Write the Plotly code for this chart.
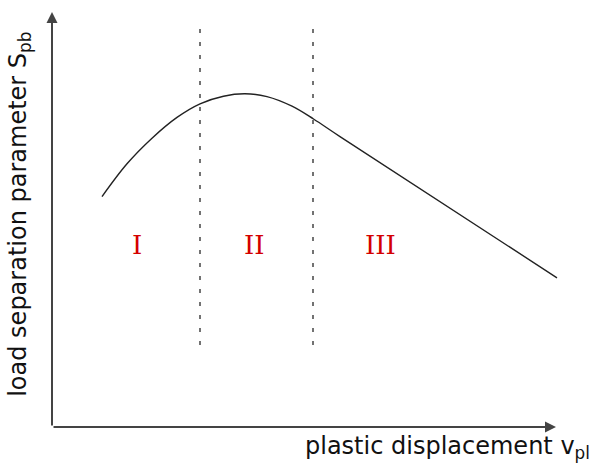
import plotly.graph_objects as go

# Schematic load-separation curve (arbitrary units)
v_pl = [1.00, 1.50, 2.00, 2.50, 2.96, 3.43, 3.86, 4.30, 4.80, 5.23, 5.76, 10.10]
s_pb = [5.76, 6.58, 7.22, 7.74, 8.08, 8.27, 8.33, 8.26, 8.02, 7.70, 7.26, 3.73]

# Stage boundaries and stage labels
boundaries = [2.96, 5.22]
boundary_span = [2.05, 10.03]
stage_names = ["I", "II", "III"]
stage_x = [1.70, 4.04, 6.56]
stage_y = 4.55

# Axis extents (arrow tips)
x_tip = 10.08
y_tip = 10.375

fig = go.Figure()

fig.add_trace(go.Scatter(
    x=v_pl, y=s_pb, mode="lines",
    line=dict(color="#222222", width=1.4, shape="spline", smoothing=1.0),
    hoverinfo="skip", showlegend=False,
))

for xb in boundaries:
    fig.add_trace(go.Scatter(
        x=[xb, xb], y=boundary_span, mode="lines",
        line=dict(color="#444444", width=1.5, dash="4px,9px"),
        hoverinfo="skip", showlegend=False,
    ))

annotations = []
# axes with arrowheads
annotations.append(dict(x=x_tip, y=0, ax=0, ay=0, xref="x", yref="y", axref="x", ayref="y",
                        showarrow=True, arrowhead=2, arrowsize=1.1, arrowwidth=2,
                        arrowcolor="#444444", text=""))
annotations.append(dict(x=0, y=y_tip, ax=0, ay=0, xref="x", yref="y", axref="x", ayref="y",
                        showarrow=True, arrowhead=2, arrowsize=1.1, arrowwidth=2,
                        arrowcolor="#444444", text=""))

for name, sx in zip(stage_names, stage_x):
    annotations.append(dict(x=sx, y=stage_y, xref="x", yref="y", text=name, showarrow=False,
                            font=dict(family="DejaVu Serif", size=26, color="#d40000")))

# axis titles placed in paper coordinates (outside the plotting area)
annotations.append(dict(x=0.7306, y=-0.047, xref="paper", yref="paper",
                        xanchor="center", yanchor="middle",
                        text="plastic displacement v<sub>pl</sub>", showarrow=False,
                        font=dict(family="DejaVu Sans", size=24, color="#111111")))
annotations.append(dict(x=-0.059, y=0.497, xref="paper", yref="paper", textangle=-90,
                        xanchor="center", yanchor="middle",
                        text="load separation parameter S<sub>pb</sub>", showarrow=False,
                        font=dict(family="DejaVu Sans", size=24, color="#111111")))

fig.update_layout(
    width=594, height=463,
    margin=dict(l=52, r=0, t=0, b=36),
    paper_bgcolor="white", plot_bgcolor="white",
    xaxis=dict(range=[0, 10.84], visible=False, fixedrange=True),
    yaxis=dict(range=[0, 10.675], visible=False, fixedrange=True),
    annotations=annotations,
    showlegend=False,
)

fig.write_html("out.html")
